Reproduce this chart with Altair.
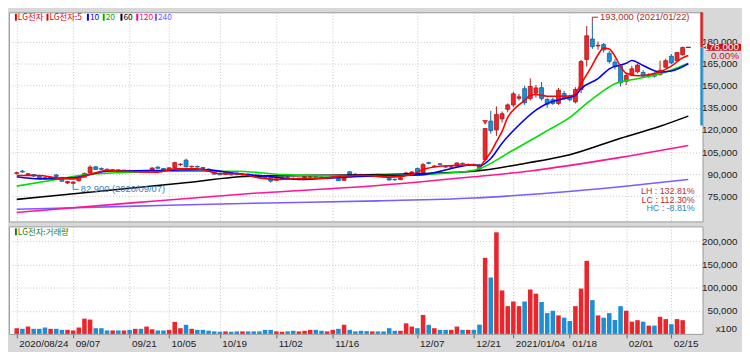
import altair as alt
import pandas as pd

opens = [90500, 92000, 89600, 89800, 88500, 87600, 87000, 89500, 87800, 84000,
         83800, 85500, 88000, 90800, 95000, 93800, 93300, 92600, 93000, 91800,
         92500, 91500, 92000, 91300, 92800, 94800, 93800, 93300, 94500, 96500,
         99500, 95000, 95300, 94500, 93500, 92000, 90500, 89800, 90800, 90800,
         89500, 90000, 89000, 88700, 87800, 88000, 85800, 87000, 87800, 87200,
         86800, 87500, 88000, 88500, 88000, 87300, 87800, 87000, 85800, 91600,
         90000, 89800, 89800, 88800, 89800, 88800, 87200, 86500, 86300, 89300,
         90800, 93800, 90900, 97800, 95000, 97000, 95200, 94800, 95400, 97300,
         96000, 96500, 96500, 100000, 126000, 120000, 127500, 134000, 137000, 141500,
         148000, 141300, 145000, 148700, 140700, 140500, 138000, 144700, 142700, 139000,
         147400, 167800, 181700, 177000, 177900, 172000, 166000, 163500, 153000, 157500,
         159500, 159000, 157000, 158000, 157500, 162500, 170000, 167000, 171000, 176000]
highs = [91700, 92800, 90800, 90000, 88900, 88000, 88400, 90000, 88000, 85500,
         85000, 88200, 91000, 96000, 95500, 94600, 93900, 93400, 93300, 93000,
         93000, 92400, 92500, 92800, 94700, 95300, 94000, 94500, 98500, 97500,
         100500, 95800, 95800, 95000, 93800, 92500, 91000, 91500, 91200, 91000,
         90500, 90300, 89500, 89000, 88300, 88400, 87200, 88000, 88300, 87800,
         87500, 88800, 89000, 89200, 88500, 88000, 88600, 87300, 87800, 92000,
         90500, 90300, 90200, 90000, 90200, 89300, 87800, 87000, 88000, 91500,
         92000, 94500, 97600, 98500, 96200, 97500, 95800, 95500, 98000, 98000,
         97300, 97000, 97000, 121000, 133000, 136000, 132500, 138000, 146000, 144500,
         150000, 155000, 150500, 152500, 141500, 142000, 148500, 146500, 144000, 149000,
         167500, 190500, 193000, 180000, 179000, 173500, 168000, 164500, 158500, 163500,
         165000, 160500, 158500, 159000, 167000, 168500, 171500, 173000, 176500, 176000]
lows = [89800, 90900, 89000, 88300, 86900, 86500, 86700, 88200, 84800, 83300,
        82900, 85000, 87800, 90500, 93000, 92800, 92100, 92000, 91500, 91500,
        91200, 90800, 91000, 91000, 92300, 93600, 92800, 92800, 94200, 95500,
        94500, 94300, 94500, 93500, 92000, 89800, 89300, 89500, 89200, 89300,
        89000, 88800, 88200, 87500, 86800, 84200, 85500, 86500, 86900, 86200,
        86000, 87000, 87500, 87600, 87000, 86500, 87200, 85300, 85500, 89000,
        89300, 89000, 88800, 88500, 88500, 87800, 85800, 85500, 86000, 89000,
        90500, 89500, 90500, 96800, 94500, 96000, 94300, 94000, 95000, 96500,
        95600, 95500, 92800, 98500, 117500, 116000, 125000, 132000, 135500, 140000,
        137000, 140000, 142000, 140000, 135000, 137000, 137000, 140500, 139500, 138000,
        145000, 163000, 175000, 174500, 172500, 165000, 161000, 149500, 150500, 156500,
        158500, 155500, 155500, 155500, 157000, 162000, 164500, 166500, 170500, 176000]
closes = [91000, 91500, 90300, 88700, 87300, 86900, 88000, 88400, 85200, 85000,
          84700, 87800, 90500, 94800, 93200, 93300, 92500, 93000, 91800, 92700,
          91500, 92000, 91400, 92500, 94200, 94000, 93000, 94300, 97800, 96800,
          95000, 95300, 94800, 93800, 92300, 90000, 89600, 91000, 89500, 89700,
          90000, 89300, 88700, 87800, 87200, 85300, 86800, 87600, 87200, 86600,
          87200, 88300, 88600, 88000, 87400, 87800, 88200, 85600, 87500, 89400,
          89800, 89600, 89000, 89800, 88800, 88200, 86000, 86200, 87500, 90800,
          91500, 89800, 96500, 97300, 95500, 96700, 94800, 95000, 97600, 97000,
          96500, 95800, 93400, 121000, 119500, 130500, 131000, 137000, 144500, 142500,
          138500, 149600, 148500, 141300, 137500, 138000, 147000, 141300, 140500, 147500,
          166400, 183900, 176500, 177500, 174300, 166500, 163000, 152000, 157000, 161500,
          164000, 156500, 157500, 156500, 160500, 167000, 165500, 172500, 176000, 176000]
volumes = [12300, 11000, 15900, 11000, 11000, 13800, 11000, 11000, 8800, 8800,
           7400, 13800, 33000, 31000, 12300, 12300, 7400, 7400, 7400, 7400,
           8800, 11000, 11000, 15900, 10000, 7400, 7400, 8800, 26000, 12300,
           19700, 11000, 8800, 8800, 7000, 5400, 4700, 5400, 4700, 5400,
           5400, 5400, 5400, 5400, 8800, 8800, 5400, 4700, 5400, 6700,
           5400, 6700, 8800, 8800, 6700, 5400, 8800, 11000, 19700, 8800,
           5400, 6700, 6000, 5400, 5400, 5400, 12300, 6700, 6700, 22900,
           15900, 12300, 41000, 19700, 12300, 8800, 8800, 8800, 15900, 8800,
           8800, 8800, 20000, 164500, 122000, 219700, 94000, 60000, 70000, 60000,
           70000, 96000, 87000, 69000, 45000, 50000, 40000, 35000, 28000, 60000,
           98000, 158000, 73000, 40000, 35000, 45000, 30000, 60000, 50000, 26500,
           29700, 26500, 18000, 18000, 37000, 32000, 21000, 32000, 29700, 0]

ma5_i = [0, 4, 7, 10, 13, 16, 19, 25, 28, 32, 36, 39, 43, 46, 50, 55, 58, 61, 66, 70, 72, 75, 78, 81,
         82, 83, 84, 85, 86, 87, 88, 89, 90, 91, 92, 94, 96, 98, 99, 100, 101, 102, 103, 104, 105,
         106, 107, 108, 110, 112, 114, 116, 118, 119]
ma5_v = [89100, 89100, 87500, 86800, 89700, 92700, 92000, 91400, 93600, 93600, 90400, 90300, 87500,
         86400, 87000, 87500, 88700, 89300, 88000, 89700, 93100, 95400, 96000, 96300,
         95500, 99800, 105000, 112000, 119000, 128500, 133500, 137000, 140000, 143500, 144000,
         142900, 142900, 143000, 144700, 151400, 157500, 164000, 171000, 175500, 175000,
         170000, 163000, 158500, 156800, 157500, 159500, 163300, 169000, 170500]
ma10_i = [0, 4, 10, 16, 27, 33, 39, 44, 50, 58, 67, 72, 78, 81, 82, 84, 86, 89, 92, 94, 97, 99, 100,
          103, 105, 108, 109, 111, 114, 116, 119]
ma10_v = [88200, 86800, 87500, 92000, 92700, 93100, 90400, 88700, 86400, 88000, 89100, 89700, 94700,
          96500, 95600, 100600, 111000, 123400, 133500, 138000, 141300, 143500, 148000,
          154800, 161500, 165300, 167100, 163700, 159300, 160000, 164900]
ma20_i = [0, 7, 12, 19, 27, 39, 47, 58, 72, 81, 88, 94, 98, 101, 104, 106, 110, 114, 119]
ma20_v = [81900, 86400, 89500, 91200, 92000, 92000, 89700, 88700, 89700, 92600, 106400, 119500,
          128500, 138000, 146700, 151400, 154800, 158100, 165300]
ma60_i = [0, 16, 29, 42, 64, 81, 90, 98, 107, 114, 119]
ma60_v = [72900, 78900, 83800, 88700, 89700, 92000, 97300, 103200, 114400, 122500, 129400]
ma120_i = [0, 21, 42, 64, 81, 91, 107, 119]
ma120_v = [64000, 70700, 77000, 82300, 88200, 92200, 101400, 109500]
ma240_i = [0, 21, 42, 64, 81, 95, 107, 119]
ma240_v = [66200, 68300, 70300, 71900, 73800, 77400, 81500, 86400]

tick_idx = [0, 10, 20, 27, 36, 46, 56, 71, 81, 88, 98, 108, 116]
tick_lbl = ["2020/08/24", "09/07", "09/21", "10/05", "10/19", "11/02", "11/16",
            "12/07", "12/21", "2021/01/04", "01/18", "02/01", "02/15"]
price_ticks = [75000, 90000, 105000, 120000, 135000, 150000, 165000, 180000]
vol_ticks = [50000, 100000, 150000, 200000]

cur_price = 176000
hi_idx, hi_price, hi_label = 102, 193000, "193,000 (2021/01/22)"
lo_idx, lo_price, lo_label = 10, 82900, "82,900 (2020/09/07)"
limit_idx = 83
stats = ["LH : 132.81%", "LC : 112.30%", "HC :  -8.81%"]
legend_names = ["LG전자", "LG전자:5", "10", "20", "60", "120", "240"]

# ---------------- build ----------------
N = len(closes)
df = pd.DataFrame({"i": list(range(N)), "o": opens, "h": highs, "l": lows,
                   "c": closes, "v": volumes})
df["dir"] = ["up" if c >= o else "dn" for o, c in zip(opens, closes)]
df["il"] = df["i"] - 0.42
df["ir"] = df["i"] + 0.42

NUM = "Liberation Sans"
KR = "Noto Sans CJK KR"
W, HP, HV = 703, 212, 109
XDOM = [-0.5, 120.65]
PDOM = [57923, 199842]
VDOM = [0, 232500]
GRID = "#c4c4c4"
UPF, DNF = "#e8262b", "#1b8ed4"
UPS, DNS = "#b01818", "#12609e"

xs = alt.Scale(domain=XDOM, nice=False, zero=False)
ys = alt.Scale(domain=PDOM, nice=False, zero=False)
vs = alt.Scale(domain=VDOM, nice=False, zero=False)
fills = alt.Scale(domain=["up", "dn"], range=[UPF, DNF])
strokes = alt.Scale(domain=["up", "dn"], range=[UPS, DNS])

XAXIS = alt.Axis(values=tick_idx, grid=True, gridColor=GRID, gridDash=[1, 2], labels=False,
                 ticks=False, domain=False, title=None)
YAXIS = alt.Axis(orient="right", values=price_ticks, format=",d", grid=True, gridColor=GRID,
                 gridDash=[1, 2], ticks=False, domain=False, labelOverlap=False,
                 labelAlign="right", labelPadding=35, labelFont=NUM, labelFontSize=10,
                 labelColor="#222", title=None)


def X(f):
    return alt.X(f, scale=xs, axis=XAXIS)


def Y(f):
    return alt.Y(f, scale=ys, axis=YAXIS)


def one(**cols):
    return alt.Chart(pd.DataFrame({k: [v] for k, v in cols.items()}))


base = alt.Chart(df)
wick = base.mark_rule(strokeWidth=1).encode(
    x=X("i:Q"), y=Y("l:Q"), y2="h:Q", stroke=alt.Stroke("dir:N", scale=strokes, legend=None))
body = base.mark_bar(size=4, strokeWidth=0.8).encode(
    x=X("i:Q"), y=Y("o:Q"), y2="c:Q",
    fill=alt.Fill("dir:N", scale=fills, legend=None),
    stroke=alt.Stroke("dir:N", scale=strokes, legend=None))
doji = base.transform_filter("datum.o == datum.c").mark_rule(strokeWidth=1.2, color=UPS).encode(
    x=X("il:Q"), x2="ir:Q", y=Y("c:Q"))
layers = [wick, body, doji]

for mi, mv, col in [(ma240_i, ma240_v, "#7a5cff"), (ma120_i, ma120_v, "#ff1493"),
                    (ma60_i, ma60_v, "#000000"), (ma20_i, ma20_v, "#00e000"),
                    (ma10_i, ma10_v, "#0000ff"), (ma5_i, ma5_v, "#ff0000")]:
    mdf = pd.DataFrame({"i": mi, "p": mv})
    layers.append(alt.Chart(mdf).mark_line(color=col, strokeWidth=1.6,
                                            interpolate="monotone").encode(
        x=X("i:Q"), y=Y("p:Q")))

# limit-up arrow
layers.append(one(i=limit_idx, p=highs[limit_idx]).mark_point(
    shape="triangle-down", filled=True, size=34, color="#e83030", opacity=1, yOffset=-6).encode(
    x=X("i:Q"), y=Y("p:Q")))

# high / low annotations
for idx_, pr, p2, lbl, col in [(hi_idx, hi_price, hi_price + 3500, hi_label, "#b02828"),
                               (lo_idx, lo_price, lo_price - 3200, lo_label, "#3c7db8")]:
    src = one(i=idx_, i2=idx_ + 1, p=pr, p2=p2, t=lbl)
    layers += [
        src.mark_rule(strokeWidth=1, color=col).encode(x=X("i:Q"), y=Y("p:Q"), y2="p2:Q"),
        src.mark_rule(strokeWidth=1, color=col).encode(x=X("i:Q"), x2="i2:Q", y=Y("p2:Q")),
        src.mark_text(align="left", baseline="middle", dx=2, font=NUM, fontSize=9.5,
                      color=col).encode(x=X("i2:Q"), y=Y("p2:Q"), text="t:N"),
    ]

# LH / LC / HC
for k, (txt, col) in enumerate(zip(stats, ["#b83030", "#b83030", "#2f86c8"])):
    layers.append(one(t=txt).mark_text(align="right", baseline="middle", font=NUM,
                                       fontSize=9, color=col).encode(
        x=alt.value(695), y=alt.value(181.5 + 8.4 * k), text="t:N"))

# right edge bars and current price tag
cp = one(top=PDOM[1], p=cur_price, lo=123000, bh=cur_price + 2500, bl=cur_price - 2300,
         t=f"{cur_price:,}", pct="0.00%")
layers += [
    cp.mark_rule(color="#d42020", strokeWidth=2.5).encode(
        x=alt.value(W - 1), y=Y("top:Q"), y2="p:Q"),
    cp.mark_rule(color="#1f8fd0", strokeWidth=2.5).encode(
        x=alt.value(W - 1), y=Y("p:Q"), y2="lo:Q"),
    cp.mark_rect(color="#c8141e").encode(
        x=alt.value(W + 4), x2=alt.value(W + 39), y=Y("bh:Q"), y2="bl:Q"),
    cp.mark_point(shape="triangle-left", filled=True, size=24, color="#c8141e",
                  opacity=1).encode(x=alt.value(W + 3), y=Y("p:Q")),
    cp.mark_text(align="right", baseline="middle", font=NUM, fontSize=10,
                 color="white").encode(x=alt.value(W + 37), y=Y("p:Q"), text="t:N"),
    cp.mark_text(align="right", baseline="middle", font=NUM, fontSize=10,
                 color="#d01010", dy=9).encode(x=alt.value(W + 37), y=Y("p:Q"), text="pct:N"),
]

# legend row
leg_x = [6, 38, 79, 95, 113, 129, 148]
leg_col = ["#e00000", "#e00000", "#0000ff", "#00b000", "#000000", "#ff0090", "#7a5cff"]
for name, px, col in zip(legend_names, leg_x, leg_col):
    src = one(t=name)
    layers += [
        src.mark_rect(color=col).encode(x=alt.value(px), x2=alt.value(px + 2),
                                        y=alt.value(1.5), y2=alt.value(8.5)),
        src.mark_text(align="left", baseline="middle", font=KR, fontSize=8.5, color=col).encode(
            x=alt.value(px + 3), y=alt.value(5), text="t:N"),
    ]

price = alt.layer(*layers).properties(width=W, height=HP)

# ---------------- volume panel ----------------
label_expr = "[" + ",".join(f"'{s}'" for s in tick_lbl) + "][indexof([" + \
    ",".join(str(t) for t in tick_idx) + "], datum.value)]"
vbars = base.mark_bar(size=4.6).encode(
    x=alt.X("i:Q", scale=xs, axis=alt.Axis(values=tick_idx, labelExpr=label_expr, grid=True,
                                           gridColor=GRID, gridDash=[1, 2], tickSize=4,
                                           tickColor="#666", domain=False, labelAlign="left",
                                           labelOffset=2, labelPadding=1, labelFont=NUM,
                                           labelFontSize=10, labelColor="#222", title=None)),
    y=alt.Y("v:Q", scale=vs, axis=alt.Axis(orient="right", values=vol_ticks, format=",d",
                                            grid=True, gridColor=GRID, gridDash=[1, 2],
                                            ticks=False, domain=False, labelAlign="right",
                                            labelOverlap=False, labelPadding=35, labelFont=NUM,
                                            labelFontSize=10, labelColor="#222", title=None)),
    fill=alt.Fill("dir:N", scale=fills, legend=None))
vsrc = one(t="LG전자:거래량", u="x100")
vlayers = [
    vbars,
    vsrc.mark_rect(color="#1a7a1a").encode(x=alt.value(6), x2=alt.value(8),
                                           y=alt.value(2), y2=alt.value(9)),
    vsrc.mark_text(align="left", baseline="middle", font=KR, fontSize=8.5,
                   color="#1a7a1a").encode(x=alt.value(9), y=alt.value(5.5), text="t:N"),
    vsrc.mark_text(align="right", baseline="middle", font=NUM, fontSize=10,
                   color="#222").encode(x=alt.value(W + 35), y=alt.value(104), text="u:N"),
]
volume = alt.layer(*vlayers).properties(width=W, height=HV)

chart = alt.vconcat(price, volume, spacing=3).properties(
    background="#d8d8d8", padding=0).configure_view(
    stroke="#9a9a9a", fill="white").configure_axis(labelOverlap=False)

chart.save("out.html", embed_options={"renderer": "svg", "actions": False})
